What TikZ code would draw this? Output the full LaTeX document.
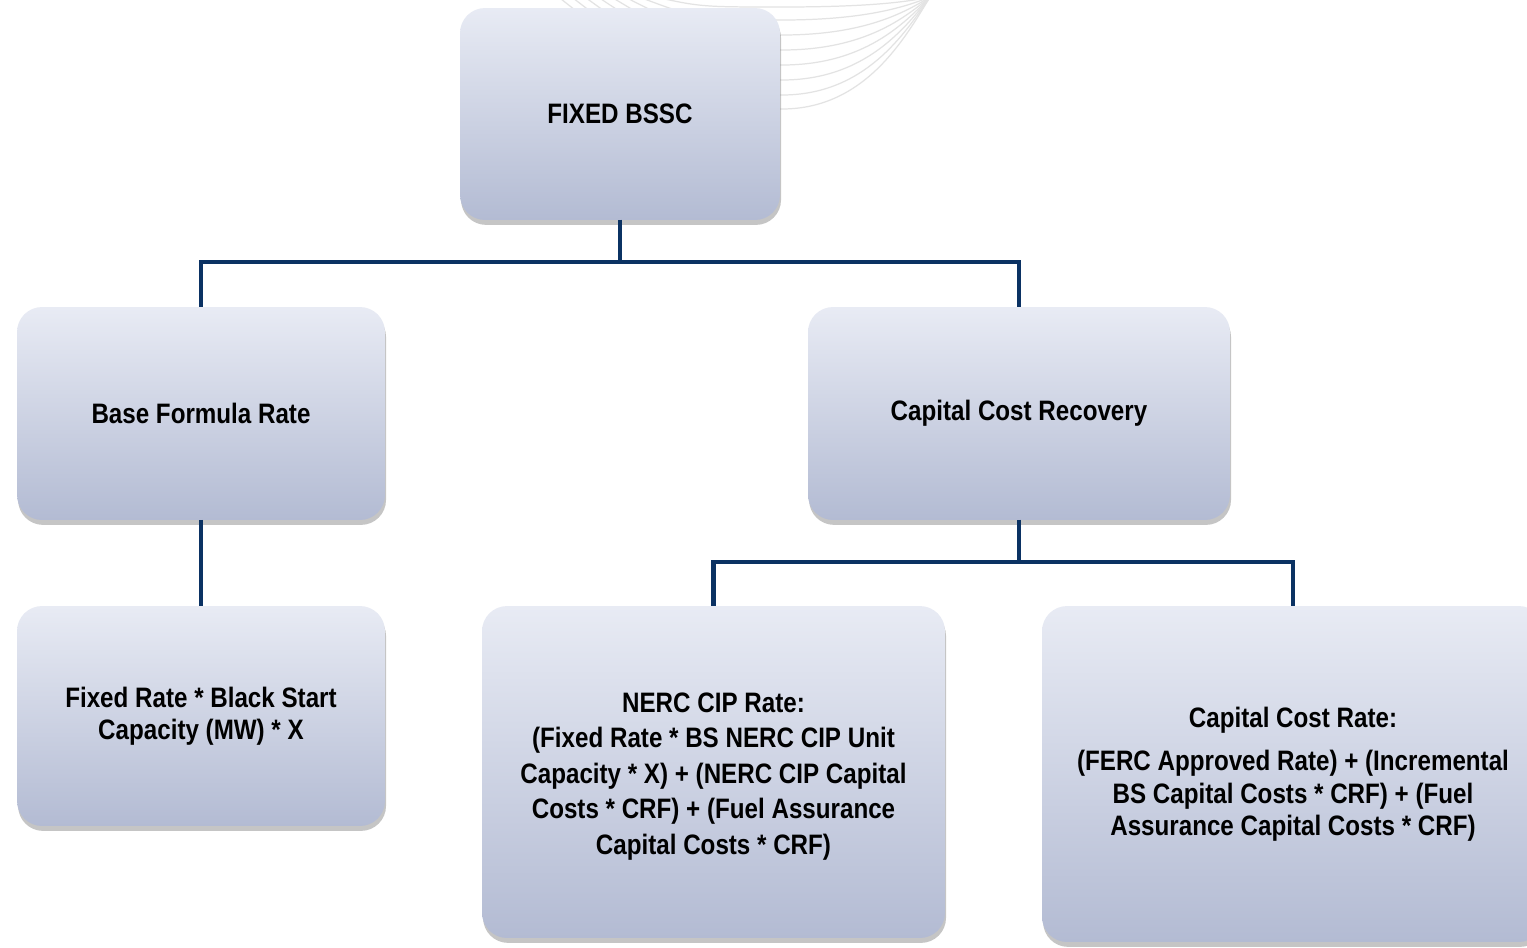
\documentclass[tikz,border=0pt]{standalone}
\usepackage{fontspec}
\setmainfont{Liberation Sans}[FakeStretch=0.86]
\usetikzlibrary{shadows}

\definecolor{boxtop}{HTML}{E8EBF4}
\definecolor{boxbot}{HTML}{B3BBD3}
\definecolor{linkblue}{HTML}{0B3263}

\tikzset{
  card/.style={rounded corners=0.5cm, top color=boxtop, bottom color=boxbot,
    draw=none, inner sep=0pt, outer sep=0pt, align=center,
    font=\bfseries\fontsize{16}{19}\selectfont,
    drop shadow={shadow xshift=0.6pt, shadow yshift=-2.8pt, opacity=0.45}},
  link/.style={draw=linkblue, line width=2.3pt},
  fanline/.style={draw=gray!22, line width=0.7pt}
}

\begin{document}
\begin{tikzpicture}[x=0.02cm, y=-0.02cm]
    % Page frame
    \clip (0,0) rectangle (1527,947);
    \fill[white] (0,0) rectangle (1527,947);

    % 1. Background fan of thin curves
    \foreach \y [count=\k] in {7,20,35,50,65,80,95,109}
        \draw[fanline] (660-13*\k,-5) .. controls (700,\y) .. (782,\y)
            .. controls (865,\y) and (905,0.35*\y) .. (930,-3);

    % 2. Boxes
    \node[card, minimum width=6.4cm, minimum height=4.24cm] (fixed) at (620,114) {FIXED BSSC};
    \node[card, minimum width=7.36cm, minimum height=4.26cm] (base) at (201,413.5) {Base Formula Rate};
    \node[card, minimum width=8.44cm, minimum height=4.26cm] (capital) at (1019,413.5) {Capital Cost Recovery};
    \node[card, minimum width=7.36cm, minimum height=4.4cm, font=\bfseries\fontsize{16}{18.2}\selectfont]
        (fixedrate) at (201,716) {Fixed Rate * Black Start\\Capacity (MW) * X};
    \node[card, minimum width=9.26cm, minimum height=6.64cm, font=\bfseries\fontsize{16}{20.2}\selectfont]
        (nerc) at (713.5,772) {\\[-4pt]NERC CIP Rate:\\(Fixed Rate * BS NERC CIP Unit\\Capacity * X) + (NERC CIP Capital\\Costs * CRF) + (Fuel Assurance\\Capital Costs * CRF)};
    \node[card, minimum width=10.04cm, minimum height=6.72cm, font=\bfseries\fontsize{16}{18.4}\selectfont]
        (caprate) at (1293,774) {Capital Cost Rate:\\[6.5pt](FERC Approved Rate) + (Incremental\\BS Capital Costs * CRF) + (Fuel\\Assurance Capital Costs * CRF)};

    % 3. Connectors
    \draw[link] (fixed.south) -- ++(0,42) -| (base.north);
    \draw[link] (fixed.south) -- ++(0,42) -| (capital.north);
    \draw[link] (base.south) -- (fixedrate.north);
    \draw[link] (capital.south) -- ++(0,42) -| (nerc.north);
    \draw[link] (capital.south) -- ++(0,42) -| (caprate.north);

\end{tikzpicture}
\end{document}
